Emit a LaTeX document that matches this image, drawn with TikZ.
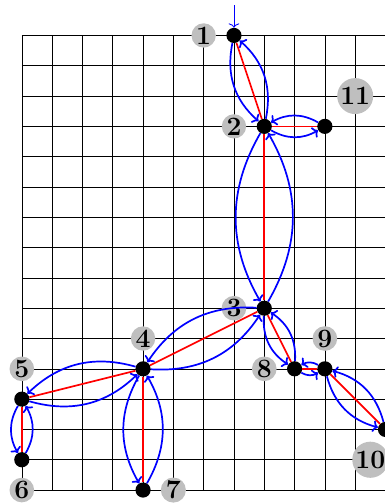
\documentclass[tikz,border=0pt]{standalone}
\usetikzlibrary{arrows.meta}

\begin{document}
\begin{tikzpicture}[
    vNode/.style={circle, fill=black, inner sep=0pt, minimum size=5mm},
    lNode/.style={circle, fill=gray!50, inner sep=0.5pt, font=\Huge\bfseries},
    tEdge/.style={draw=red, line width=1.6pt},
    aEdge/.style={draw=blue, line width=1.6pt, -{To[length=5pt,width=11pt]}, bend right=30},
    sEdge/.style={draw=blue, line width=0.8pt, -{To[length=4pt,width=10pt]}}
]
    \useasboundingbox (-0.72,-0.46) rectangle (11.96,16.17);
    \draw[line width=0.6pt] (0,0) grid (12,15);

    \node[lNode] (l1) at (6,15) {1};
    \node[lNode] (l2) at (7,12) {2};
    \node[lNode] (l3) at (7,6) {3};
    \node[lNode] (l4) at (4,5) {4};
    \node[lNode] (l5) at (0,4) {5};
    \node[lNode] (l6) at (0,0) {6};
    \node[lNode] (l7) at (5,0) {7};
    \node[lNode] (l8) at (8,4) {8};
    \node[lNode] (l9) at (10,5) {9};
    \node[lNode] (l10) at (11.5,1) {10};
    \node[lNode] (l11) at (11,13) {11};

    \node[vNode] (n1) at (7,15) {};
    \node[vNode] (n2) at (8,12) {};
    \node[vNode] (n3) at (8,6) {};
    \node[vNode] (n4) at (4,4) {};
    \node[vNode] (n5) at (0,3) {};
    \node[vNode] (n6) at (0,1) {};
    \node[vNode] (n7) at (4,0) {};
    \node[vNode] (n8) at (9,4) {};
    \node[vNode] (n9) at (10,4) {};
    \node[vNode] (n10) at (12,2) {};
    \node[vNode] (n11) at (10,12) {};

    \draw[tEdge] (n1) -- (n2);
    \draw[tEdge] (n2) -- (n11);
    \draw[tEdge] (n2) -- (n3);
    \draw[tEdge] (n3) -- (n4);
    \draw[tEdge] (n3) -- (n8);
    \draw[tEdge] (n4) -- (n5);
    \draw[tEdge] (n4) -- (n7);
    \draw[tEdge] (n5) -- (n6);
    \draw[tEdge] (n8) -- (n9);
    \draw[tEdge] (n9) -- (n10);

    \draw[aEdge] (n1) to (n2);
    \draw[aEdge] (n2) to (n1);
    \draw[aEdge] (n2) to (n11);
    \draw[aEdge] (n11) to (n2);
    \draw[aEdge] (n2) to (n3);
    \draw[aEdge] (n3) to (n2);
    \draw[aEdge] (n3) to (n4);
    \draw[aEdge] (n4) to (n3);
    \draw[aEdge] (n3) to (n8);
    \draw[aEdge] (n8) to (n3);
    \draw[aEdge] (n4) to (n5);
    \draw[aEdge] (n5) to (n4);
    \draw[aEdge] (n4) to (n7);
    \draw[aEdge] (n7) to (n4);
    \draw[aEdge] (n5) to (n6);
    \draw[aEdge] (n6) to (n5);
    \draw[aEdge] (n8) to (n9);
    \draw[aEdge] (n9) to (n8);
    \draw[aEdge] (n9) to (n10);
    \draw[aEdge] (n10) to (n9);

    \coordinate (start) at (7,16);
    \draw[sEdge] (start) -- (n1);
\end{tikzpicture}
\end{document}
